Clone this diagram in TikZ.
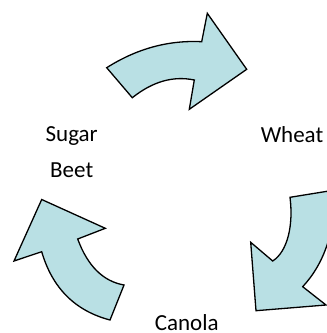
\documentclass[tikz,border=0pt]{standalone}
\usepackage{fontspec}
\setmainfont{Carlito}
\definecolor{arrowfill}{RGB}{185,224,228}
\begin{document}
\begin{tikzpicture}[x=1pt,y=-1pt,
  cyc/.style={fill=arrowfill,draw=black,line width=1.3pt,line join=miter},
  lbl/.style={font=\fontsize{23}{32.5}\selectfont,anchor=base,align=center,inner sep=0pt}]
\useasboundingbox (0,0) rectangle (327,333);
\clip (0,0) rectangle (327,333);
% top arrow
\draw[cyc] (106.7,67.7) .. controls (136.7,48.7) and (168.3,40) .. (201.7,41.7)
  -- (207.3,13.3) -- (246.7,69.3) -- (189.3,109.3) -- (194.3,80)
  .. controls (173.3,75.7) and (153,81.3) .. (132.3,97.7) -- cycle;
% right arrow
\draw[cyc] (290,197.3) -- (335,190) .. controls (335.1,231.3) and (324.4,263.3) .. (302.7,286.7)
  -- (326,305) -- (256,310.7) -- (250.7,242.3) -- (272.7,261)
  .. controls (287.8,251.3) and (293.5,224.7) .. (290,197.3) -- cycle;
% left arrow
\draw[cyc] (41.7,199.5) -- (105.3,228.3) -- (77.7,239)
  .. controls (87.6,265.9) and (103,281.3) .. (124,285)
  -- (110,320) .. controls (75,310.8) and (52.3,288) .. (41.7,251.7)
  -- (14,261) -- cycle;
\node[lbl] (sugar) at (71.7,177) {Sugar\\[3pt]Beet};
\node[lbl] (wheat) at (292,142.4) {Wheat};
\node[lbl] (canola) at (186.7,330) {Canola};
\end{tikzpicture}
\end{document}
